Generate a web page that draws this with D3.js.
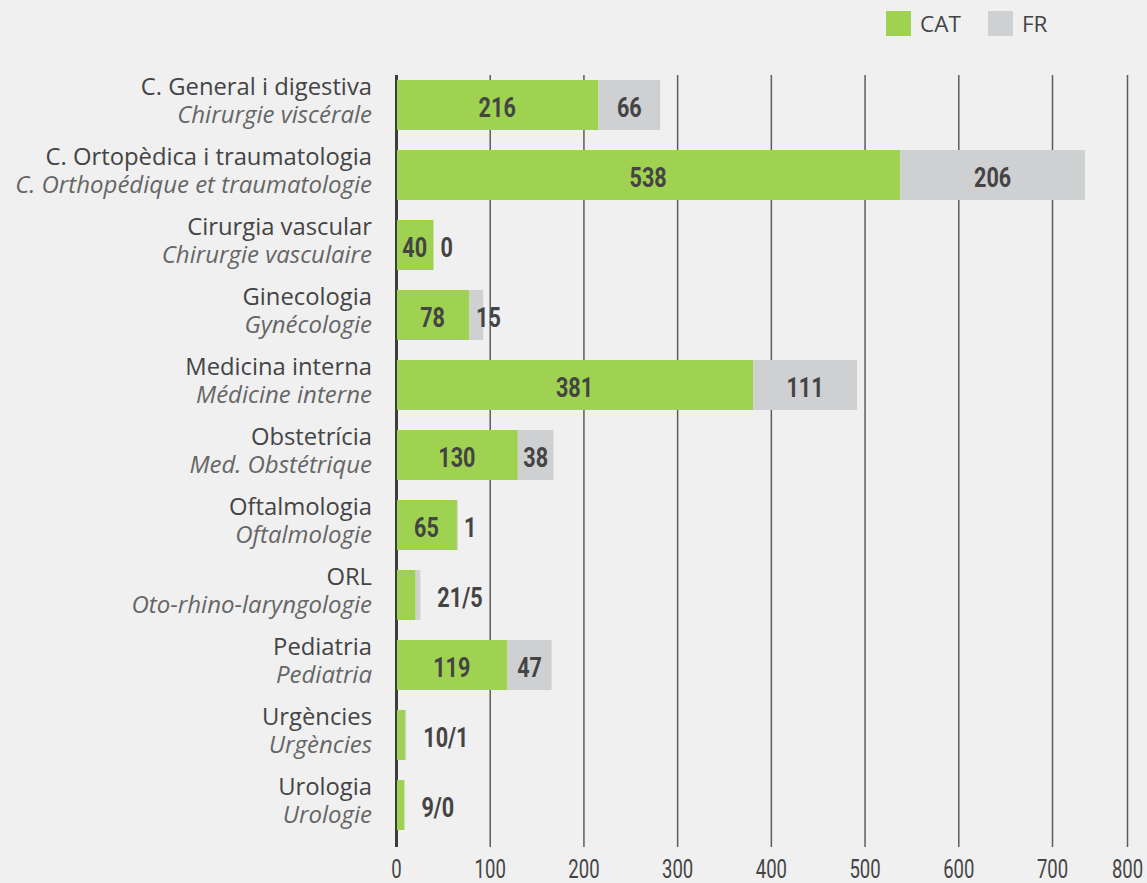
<!DOCTYPE html>
<html>
<head>
<meta charset="utf-8">
<script src="https://cdn.jsdelivr.net/npm/d3@7"></script>
<style>
  body { margin: 0; background: #f0f0f0; }
  svg { display: block; }
</style>
</head>
<body>
<svg width="1147" height="883"></svg>
<script>
// services, catalan name + french name
const catLabels = ['C. General i digestiva', 'C. Ortopèdica i traumatologia', 'Cirurgia vascular', 'Ginecologia',
  'Medicina interna', 'Obstetrícia', 'Oftalmologia', 'ORL', 'Pediatria', 'Urgències', 'Urologia'];
const frLabels = ['Chirurgie viscérale', 'C. Orthopédique et traumatologie', 'Chirurgie vasculaire', 'Gynécologie',
  'Médicine interne', 'Med. Obstétrique', 'Oftalmologie', 'Oto-rhino-laryngologie', 'Pediatria', 'Urgències', 'Urologie'];

// patients per series
const catValues = [216, 538, 40, 78, 381, 130, 65, 21, 119, 10, 9];
const frValues = [66, 206, 0, 15, 111, 38, 1, 5, 47, 1, 0];

// rows where both numbers are written together as "cat/fr"
const combinedRows = ['ORL', 'Urgències', 'Urologia'];

const xTicks = [0, 100, 200, 300, 400, 500, 600, 700, 800];
const legendItems = ['CAT', 'FR'];

const green = '#a0d251';
const grey = '#cfd0d2';
const textCol = '#444';

const svg = d3.select('svg');

const gridTop = 75, gridBottom = 847;

// no condensed font installed, so squeeze the glyphs instead
function condense(sel, f) {
  sel.each(function () {
    const w = this.getComputedTextLength();
    d3.select(this).attr('textLength', w * f).attr('lengthAdjust', 'spacingAndGlyphs');
  });
}

// the last gridline (800) sits closer than the others in the original
const x = d3.scaleLinear()
  .domain([0, 700, 800])
  .range([396, 1052, 1127]);

const y = d3.scaleBand()
  .domain(catLabels)
  .range([70, 840])
  .paddingInner(2 / 7)
  .paddingOuter(1 / 7);

// gridlines
const grid = svg.append('g')
  .attr('transform', `translate(0, ${gridBottom})`)
  .call(d3.axisBottom(x).tickValues(xTicks).tickSize(-(gridBottom - gridTop)).tickFormat(''));
grid.select('.domain').remove();
grid.selectAll('.tick line')
  .attr('stroke', d => d === 0 ? '#3d3d3d' : '#5c5c5c')
  .attr('stroke-width', d => d === 0 ? 3 : 1.5);

// tick labels
const axis = svg.append('g')
  .attr('transform', `translate(0, ${gridBottom})`)
  .call(d3.axisBottom(x).tickValues(xTicks).tickSize(0).tickPadding(0));
axis.select('.domain').remove();
axis.selectAll('text')
  .attr('y', 31)
  .attr('dy', 0)
  .attr('fill', textCol)
  .style('font-family', 'Roboto, sans-serif')
  .style('font-size', '25px')
  .call(condense, 0.74);

const rows = catLabels.map((c, i) => ({ cat: c, fr: frLabels[i], a: catValues[i], b: frValues[i] }));

const row = svg.append('g').selectAll('g')
  .data(rows)
  .join('g');

row.append('rect')
  .attr('x', x(0) + 1)
  .attr('y', d => y(d.cat))
  .attr('width', d => x(d.a) - x(0) - 1)
  .attr('height', y.bandwidth())
  .attr('fill', green);

row.append('rect')
  .attr('x', d => x(d.a))
  .attr('y', d => y(d.cat))
  .attr('width', d => x(d.a + d.b) - x(d.a))
  .attr('height', y.bandwidth())
  .attr('fill', grey);

// category labels
row.append('text')
  .attr('x', 372)
  .attr('y', d => y(d.cat) + 15)
  .attr('text-anchor', 'end')
  .attr('fill', textCol)
  .style('font-family', '"Open Sans", sans-serif')
  .style('font-size', '23.8px')
  .text(d => d.cat);

row.append('text')
  .attr('x', 372)
  .attr('y', d => y(d.cat) + 43)
  .attr('text-anchor', 'end')
  .attr('fill', '#666')
  .style('font-family', '"Open Sans", sans-serif')
  .style('font-style', 'italic')
  .style('font-size', '24px')
  .text(d => d.fr);

// value labels
const valLabel = (sel) => sel
  .attr('y', d => y(d.cat) + 37)
  .attr('fill', textCol)
  .style('font-family', 'Roboto, sans-serif')
  .style('font-weight', 'bold')
  .style('font-size', '27px');

const single = rows.filter(d => !combinedRows.includes(d.cat));
const combined = rows.filter(d => combinedRows.includes(d.cat));

svg.append('g').selectAll('text')
  .data(single)
  .join('text')
  .call(valLabel)
  .attr('x', d => (x(0) + x(d.a)) / 2)
  .attr('text-anchor', 'middle')
  .text(d => d.a)
  .call(condense, 0.8);

svg.append('g').selectAll('text')
  .data(single)
  .join('text')
  .call(valLabel)
  .attr('x', d => (x(d.a + d.b) - x(d.a) > 30) ? (x(d.a) + x(d.a + d.b)) / 2 : x(d.a) + 7)
  .attr('text-anchor', d => (x(d.a + d.b) - x(d.a) > 30) ? 'middle' : 'start')
  .text(d => d.b)
  .call(condense, 0.8);

svg.append('g').selectAll('text')
  .data(combined)
  .join('text')
  .call(valLabel)
  .attr('x', d => x(d.a + d.b) + 17)
  .attr('text-anchor', 'start')
  .text(d => d.a + '/' + d.b)
  .call(condense, 0.8);

// legend
const legend = svg.append('g').selectAll('g')
  .data(legendItems)
  .join('g')
  .attr('transform', (d, i) => `translate(${886 + i * 102}, 11)`);
legend.append('rect')
  .attr('width', 25)
  .attr('height', 25)
  .attr('fill', (d, i) => i === 0 ? green : grey);
legend.append('text')
  .attr('x', 34)
  .attr('y', 21)
  .attr('fill', textCol)
  .style('font-family', '"Open Sans", sans-serif')
  .style('font-size', '22.5px')
  .text(d => d);
</script>
</body>
</html>
